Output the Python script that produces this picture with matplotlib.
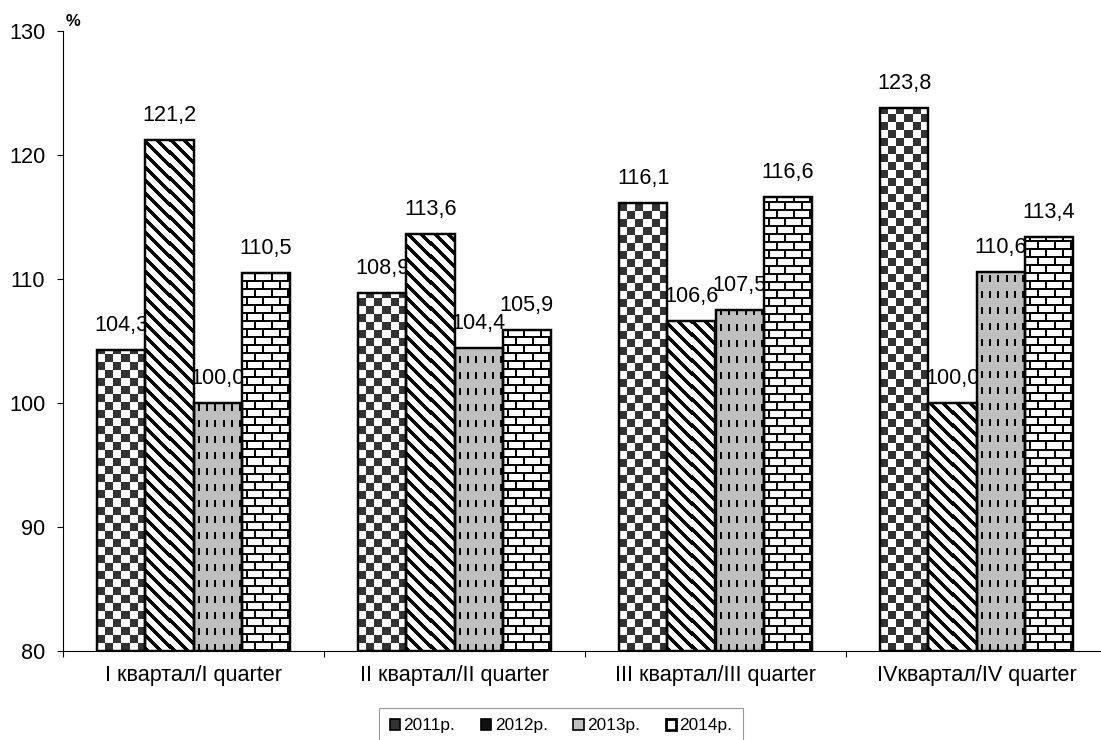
import numpy as np
import matplotlib.pyplot as plt
from matplotlib.patches import Patch

# Індекси по кварталах, % до відповідного кварталу попереднього року
quarters = ["I квартал/I quarter", "II квартал/II quarter",
            "III квартал/III quarter", "IVквартал/IV quarter"]
years = ["2011р.", "2012р.", "2013р.", "2014р."]
v2011 = [104.3, 108.9, 116.1, 123.8]
v2012 = [121.2, 113.6, 106.6, 100.0]
v2013 = [100.0, 104.4, 107.5, 110.6]
v2014 = [110.5, 105.9, 116.6, 113.4]

ymin, ymax = 80, 130
DPI = 80

plt.rcParams['font.family'] = ['Liberation Sans', 'DejaVu Sans']


# bitmap fills (px based), row 0 = bottom of the bar
def checker(h, w):
    yy, xx = np.mgrid[0:h, 0:w]
    img = np.ones((h, w, 3))
    img[((yy // 8) + (xx // 8)) % 2 == 1] = 0.2
    return img


def diag(h, w):
    yy, xx = np.mgrid[0:h, 0:w]
    img = np.ones((h, w, 3))
    img[((xx + yy) % 13) < 5] = 0.0
    return img


def dashes(h, w):
    yy, xx = np.mgrid[0:h, 0:w]
    img = np.full((h, w, 3), 0.75)
    img[(((xx - 4) % 8) < 2) & ((yy % 16) < 7)] = 0.0
    return img


def bricks(h, w):
    yy, xx = np.mgrid[0:h, 0:w]
    img = np.ones((h, w, 3))
    row = yy // 8
    hor = (yy % 8) < 2
    ver = ((xx + (row % 2) * 8 + 4) % 16) < 2
    img[hor | ver] = 0.0
    return img


fig = plt.figure(figsize=(1101 / DPI, 740 / DPI), dpi=DPI)
ax = fig.add_axes([63 / 1101, 89 / 740, 1044 / 1101, 620 / 740])
ax.set_xlim(-0.5, 3.5)
ax.set_ylim(ymin, ymax)

x = np.arange(len(quarters))
w = 0.184
series = [v2011, v2012, v2013, v2014]
fills = [checker, diag, dashes, bricks]

for i, (vals, fill) in enumerate(zip(series, fills)):
    pos = x + (i - 1.5) * w
    vals = np.array(vals)
    ax.bar(pos, vals - ymin, w, bottom=ymin, facecolor='none',
           edgecolor='black', linewidth=2.2, zorder=3)
    for p, v in zip(pos, vals):
        (px0, py0), (px1, py1) = ax.transData.transform(
            [(p - w / 2, ymin), (p + w / 2, v)])
        hpx = max(int(round(py1 - py0)), 1)
        wpx = max(int(round(px1 - px0)), 1)
        ax.imshow(fill(hpx, wpx), extent=(p - w / 2, p + w / 2, ymin, v),
                  origin='lower', interpolation='nearest', aspect='auto',
                  zorder=2)
        ax.annotate(f"{v:.1f}".replace('.', ','), (p, v), xytext=(0, 22),
                    textcoords='offset points', ha='center', va='center',
                    fontsize=19.5, zorder=1)

ax.set_xlim(-0.5, 3.5)
ax.set_ylim(ymin, ymax)
ax.set_yticks(np.arange(80, 131, 10))
ax.set_xticks(x)
ax.set_xticklabels(quarters)
ax.set_xticks(np.arange(-0.5, 3.6, 1), minor=True)
ax.tick_params(axis='x', which='major', length=0, pad=13, labelsize=19.5)
ax.tick_params(axis='x', which='minor', length=5, width=1, direction='out')
ax.tick_params(axis='y', length=5, width=1, pad=11, labelsize=19.5)
for s in ['top', 'right']:
    ax.spines[s].set_visible(False)
for s in ['left', 'bottom']:
    ax.spines[s].set_linewidth(1)

fig.text(73 / 1101, 1 - 22 / 740, "%", fontsize=15, fontweight='bold',
         ha='center', va='center')

handles = [Patch(facecolor='#333333', edgecolor='black', linewidth=1.5),
           Patch(facecolor='#111111', edgecolor='black', linewidth=1.5),
           Patch(facecolor='#c0c0c0', edgecolor='black', linewidth=1.5),
           Patch(facecolor='white', edgecolor='black', linewidth=2.5)]
leg = fig.legend(handles, years, loc='upper center', ncol=4,
                 bbox_to_anchor=(561 / 1101, 1 - 708 / 740), borderaxespad=0,
                 fontsize=15.5, handlelength=0.6, handleheight=0.6,
                 handletextpad=0.2, columnspacing=1.5, fancybox=False,
                 borderpad=0.6)
leg.get_frame().set_edgecolor('#808080')
leg.get_frame().set_linewidth(1)

fig.savefig("out.png", dpi=DPI)
